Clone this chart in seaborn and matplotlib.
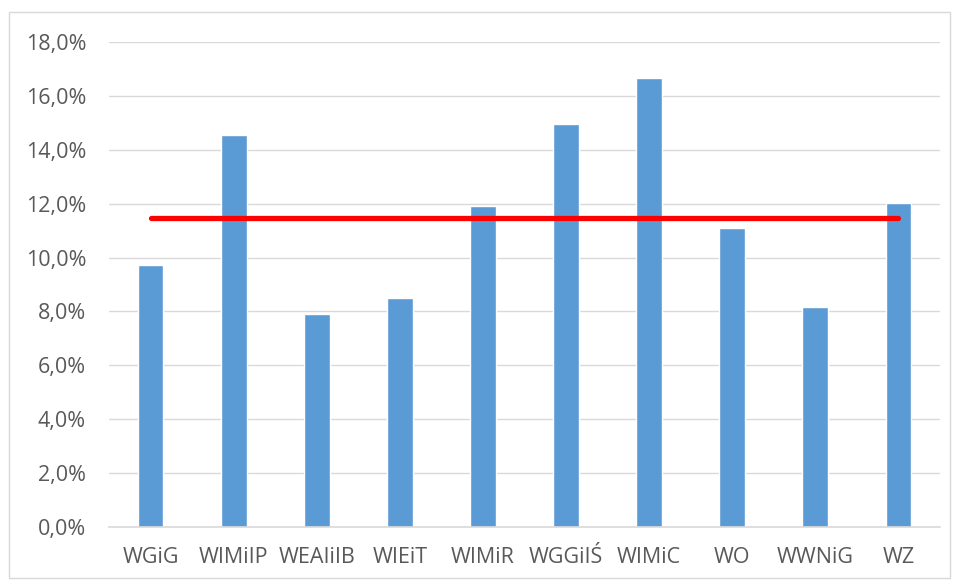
import pandas as pd
import matplotlib.pyplot as plt
import seaborn as sns
from matplotlib.patches import Rectangle
from matplotlib.ticker import FuncFormatter

# --- dane ---
wydzialy = ["WGiG", "WIMiIP", "WEAIiIB", "WIEiT", "WIMiR",
            "WGGiIŚ", "WIMiC", "WO", "WWNiG", "WZ"]
udzial = [0.0972, 0.1455, 0.0791, 0.0850, 0.1192,
          0.1496, 0.1667, 0.1110, 0.0817, 0.1203]
srednia = 0.1147

df = pd.DataFrame({"Wydzial": wydzialy, "Udzial": udzial})

sns.set_style("white")
plt.rcParams['font.family'] = ['Open Sans', 'DejaVu Sans']

fig = plt.figure(figsize=(9.57, 5.81), dpi=100, facecolor='white')
ax = fig.add_axes([0.1139, 0.0929, 0.8683, 0.8348])

# --- słupki ---
sns.barplot(data=df, x="Wydzial", y="Udzial", color="#5b9bd5",
            saturation=1, width=0.31, ax=ax, zorder=2)

# --- linia średniej ---
ax.plot([wydzialy[0], wydzialy[-1]], [srednia, srednia], color="#ff0000",
        linewidth=3.8, solid_capstyle='round', zorder=3)

# --- osie ---
ax.set_ylim(0, 0.18)
ax.set_yticks([i * 0.02 for i in range(10)])
ax.yaxis.set_major_formatter(
    FuncFormatter(lambda v, p: f"{v * 100:.1f}%".replace(".", ",")))
ax.set_xlim(-0.5, len(wydzialy) - 0.5)
ax.grid(True, axis='y', color='#d9d9d9', linewidth=1.0, zorder=0)
ax.set_axisbelow(True)

for s in ['top', 'right', 'left']:
    ax.spines[s].set_visible(False)
ax.spines['bottom'].set_color('#d9d9d9')
ax.spines['bottom'].set_linewidth(1.2)

ax.tick_params(axis='both', length=0, labelsize=15.5, colors='#595959')
ax.tick_params(axis='x', pad=14.5)
ax.tick_params(axis='y', pad=16.5)
ax.set_xlabel("")
ax.set_ylabel("")

# ramka wykresu
fig.patches.append(Rectangle((9 / 957, 1 - 578 / 581), 941 / 957, 566 / 581,
                             transform=fig.transFigure, fill=False,
                             edgecolor='#d9d9d9', linewidth=1.0))

fig.savefig("out.png", dpi=100, facecolor='white')
plt.close(fig)
